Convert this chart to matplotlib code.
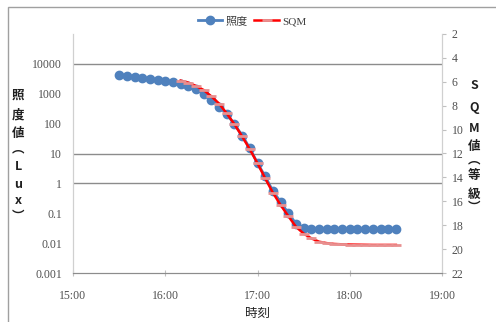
import matplotlib
matplotlib.use("Agg")
import matplotlib.pyplot as plt
from matplotlib.ticker import FixedLocator, FuncFormatter, NullLocator
from matplotlib.patches import Rectangle

lux_times = ["15:30", "15:35", "15:40", "15:45", "15:50", "15:55", "16:00", "16:05",
             "16:10", "16:15", "16:20", "16:25", "16:30", "16:35", "16:40", "16:45",
             "16:50", "16:55", "17:00", "17:05", "17:10", "17:15", "17:20", "17:25",
             "17:30", "17:35", "17:40", "17:45", "17:50", "17:55", "18:00", "18:05",
             "18:10", "18:15", "18:20", "18:25", "18:30"]
lux_values = [4300, 4000, 3700, 3400, 3100, 2850, 2600, 2400,
              2200, 1800, 1400, 1000, 620, 370, 210, 95,
              40, 15, 4.7, 1.7, 0.55, 0.24, 0.1, 0.045,
              0.032, 0.03, 0.03, 0.03, 0.03, 0.03, 0.03, 0.03,
              0.03, 0.03, 0.03, 0.03, 0.03]

sqm_times = ["16:10", "16:15", "16:20", "16:25", "16:30", "16:35", "16:40", "16:45",
             "16:50", "16:55", "17:00", "17:05", "17:10", "17:15", "17:20", "17:25",
             "17:30", "17:35", "17:40", "17:45", "17:50", "17:55", "18:00", "18:05",
             "18:10", "18:15", "18:20", "18:25", "18:30"]
sqm_values = [5.9, 6.07, 6.35, 6.69, 7.22, 7.82, 8.65, 9.55,
              10.57, 11.65, 12.82, 14.08, 15.28, 16.31, 17.23, 18.13,
              18.7, 19.1, 19.38, 19.5, 19.57, 19.6, 19.62, 19.63,
              19.64, 19.65, 19.65, 19.65, 19.65]

x_ticks = ["15:00", "16:00", "17:00", "18:00", "19:00"]
lux_ticks = [0.001, 0.01, 0.1, 1, 10, 100, 1000, 10000]
lux_tick_labels = ["0.001", "0.01", "0.1", "1", "10", "100", "1000", "10000"]
lux_grid = [10000, 10, 1]
sqm_ticks = [2, 4, 6, 8, 10, 12, 14, 16, 18, 20, 22]


def to_hours(s):
    h, m = s.split(":")
    return int(h) + int(m) / 60.0


num_font = "Liberation Serif"
cjk = ["Noto Sans CJK JP", "DejaVu Sans"]
tick_color = "#505050"

fig = plt.figure(figsize=(4.96, 3.22), dpi=100)
ax = fig.add_axes([73 / 496, 1 - 273 / 322, (442 - 73) / 496, (273 - 34) / 322])
ax2 = ax.twinx()

# outer chart border
fig.patches.append(Rectangle((8 / 496, -0.1), 1.2, 1 - 7 / 322 + 0.1, transform=fig.transFigure,
                             fill=False, edgecolor="#a0a0a0", linewidth=1.0))

lx = [to_hours(t) for t in lux_times]
sx = [to_hours(t) for t in sqm_times]

ax.set_yscale("log")
ax.set_ylim(0.001, 100000)
ax.set_xlim(15, 19)
for g in lux_grid:
    ax.axhline(g, color="#8c8c8c", linewidth=1.0, zorder=0)

ax.plot(lx, lux_values, color="#4F81BD", linewidth=2, marker="o", markersize=6,
        markeredgecolor="#4F81BD", markerfacecolor="#4F81BD", label="照度", zorder=3)

ax2.set_ylim(22, 2)
ax2.plot(sx, sqm_values, color="#FF0000", linewidth=1.8, marker="_", markersize=7,
         markeredgewidth=2.0, markeredgecolor="#E89090", label="SQM", zorder=4)
ax2.set_zorder(ax.get_zorder() + 1)
ax2.patch.set_visible(False)

# ticks
ax.xaxis.set_major_locator(FixedLocator([to_hours(t) for t in x_ticks]))
ax.xaxis.set_major_formatter(FuncFormatter(lambda v, p: "%d:00" % round(v)))
ax.yaxis.set_major_locator(FixedLocator(lux_ticks))
ax.yaxis.set_minor_locator(NullLocator())
ax.set_yticklabels(lux_tick_labels)
ax2.yaxis.set_major_locator(FixedLocator(sqm_ticks))

ax.tick_params(axis="x", direction="inout", length=4, color="#c0c0c0", labelsize=8.5,
               labelcolor=tick_color, pad=10, labelfontfamily=num_font)
ax.tick_params(axis="y", length=0, labelsize=8.5, labelcolor=tick_color, pad=8,
               labelfontfamily=num_font)
ax2.tick_params(axis="y", direction="out", length=3, color="#c0c0c0", labelsize=8.5,
                labelcolor=tick_color, pad=4, labelfontfamily=num_font)

for a in (ax, ax2):
    a.spines["top"].set_visible(False)
    a.spines["left"].set_color("#d0d0d0")
    a.spines["right"].set_color("#d0d0d0")
    a.spines["bottom"].set_color("#8c8c8c")

# x label
fig.text(258 / 496, 1 - 313 / 322, "時刻", family=cjk, fontsize=9, ha="center", va="center",
         color="#202020")

# left stacked label
left_chars = [("照", 95), ("度", 115), ("値", 134), ("︵", 149), ("L", 166), ("u", 184),
              ("x", 201), ("︶", 216)]
for ch, y in left_chars:
    fig.text(18 / 496, 1 - y / 322, ch, family=cjk, fontsize=9, ha="center", va="center",
             color="#202020", fontweight="bold")

right_chars = [("S", 86), ("Q", 107), ("M", 128), ("値", 146), ("︵", 160), ("等", 176),
               ("級", 194), ("︶", 207)]
for ch, y in right_chars:
    fig.text(474 / 496, 1 - y / 322, ch, family=cjk, fontsize=9, ha="center", va="center",
             color="#202020", fontweight="bold")

# legend
h1, l1 = ax.get_legend_handles_labels()
h2, l2 = ax2.get_legend_handles_labels()
leg = fig.legend(h1 + h2, l1 + l2, loc="center", bbox_to_anchor=(252 / 496, 1 - 21 / 322),
                 ncol=2, frameon=False, handlelength=2.2, handletextpad=0.3,
                 columnspacing=0.6, prop={"family": cjk, "size": 8})
for t in leg.get_texts():
    t.set_color("#404040")
leg.get_texts()[1].set_fontfamily(num_font)

fig.savefig("out.png", dpi=100)
